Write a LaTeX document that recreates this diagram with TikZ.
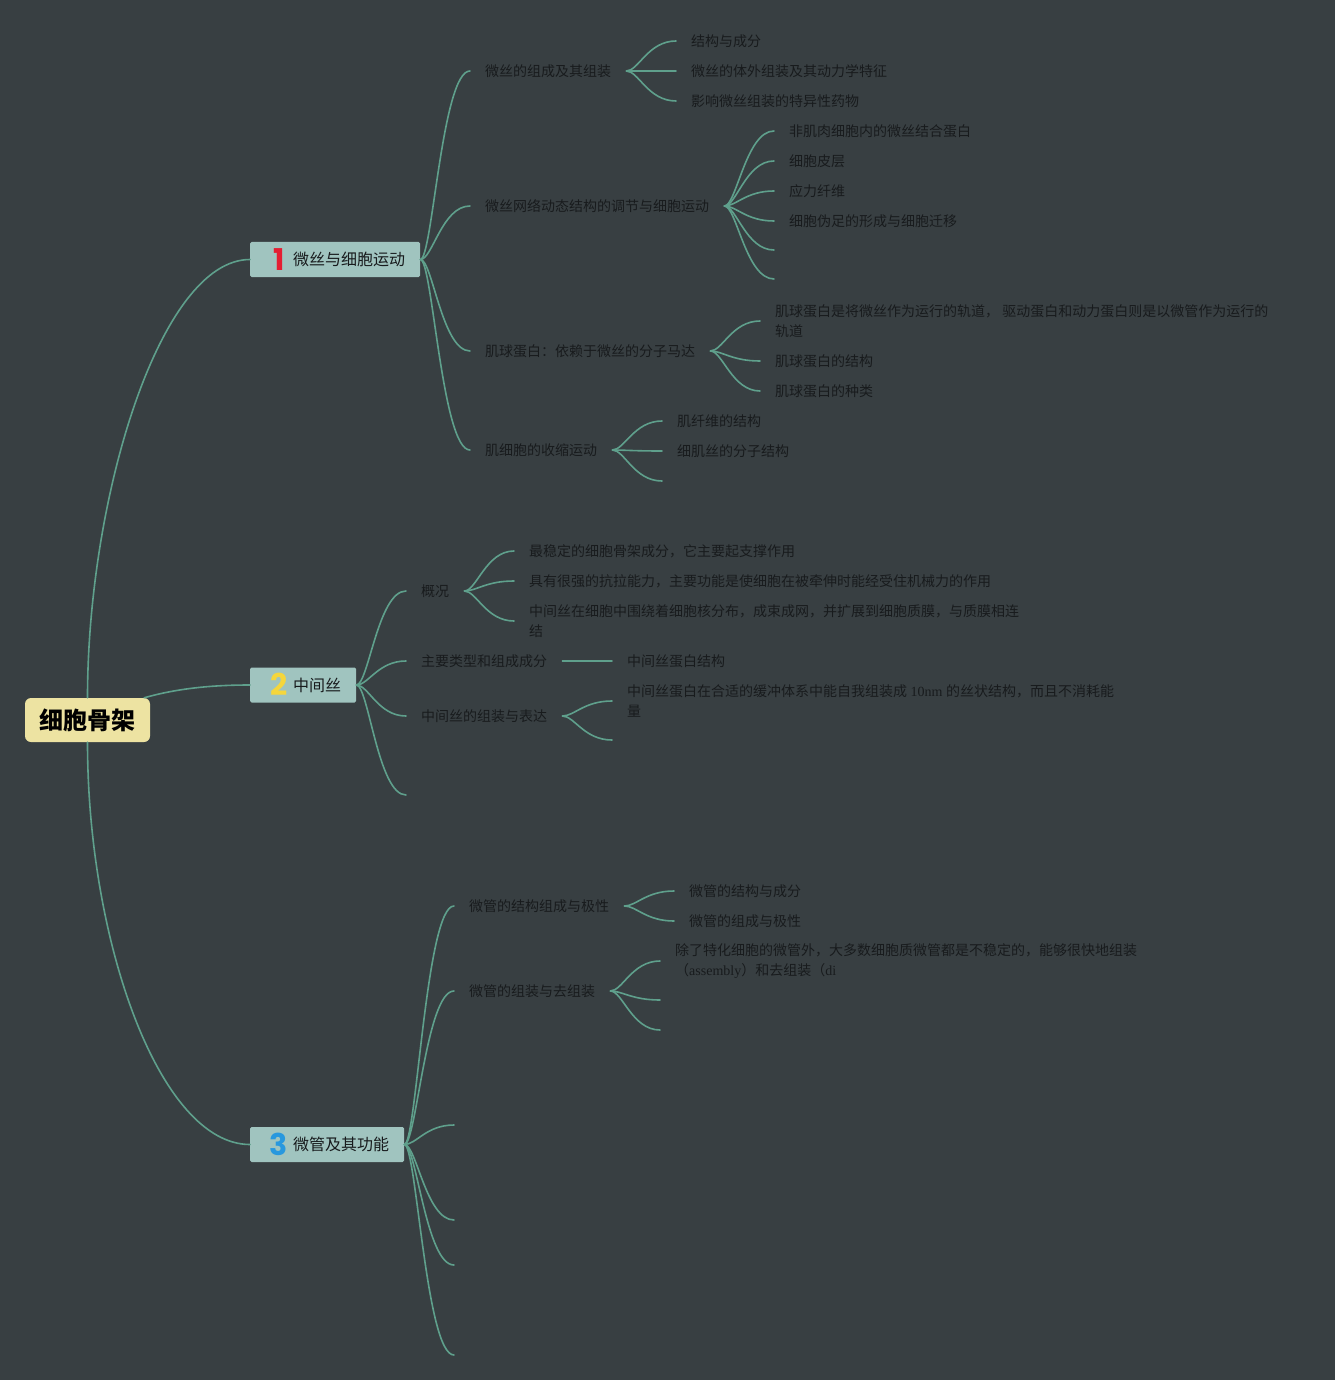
\documentclass[tikz,border=0pt]{standalone}
\usepackage{fontspec}
\setmainfont{Noto Sans CJK SC}
\newfontfamily\latfont{Liberation Serif}
\newfontfamily\numfont{Poppins}
\definecolor{bgc}{RGB}{56,63,66}
\definecolor{linkc}{RGB}{95,160,140}
\definecolor{txtc}{RGB}{24,27,29}
\definecolor{mainc}{RGB}{160,196,191}
\definecolor{rootc}{RGB}{237,227,162}
\definecolor{numred}{RGB}{228,30,50}
\definecolor{numyel}{RGB}{245,214,60}
\definecolor{numblu}{RGB}{40,152,222}
\newcommand\brlink[2]{\draw[link] (#1) .. controls +(12,0) and +(-28,0) .. (#2);}
\newcommand\topicnum[3]{\kern20pt\makebox[17pt]{\smash{\raisebox{-4.5pt}{\numfont\bfseries\fontsize{30pt}{30pt}\selectfont\color{#1}#2}}}\kern6pt#3\kern15pt\relax}
\begin{document}
\begin{tikzpicture}[x=1pt,y=-1pt,
  link/.style={draw=linkc, line width=1.6pt, line cap=round},
  leaf/.style={anchor=west, inner xsep=15pt, inner ysep=0pt, text=txtc, font=\fontsize{14pt}{20pt}\selectfont, align=left},
  topic/.style={anchor=west, inner xsep=0pt, inner ysep=0pt, minimum height=35pt, fill=mainc, rounded corners=1.5pt, text=txtc, font=\fontsize{16pt}{20pt}\selectfont},
  rootbox/.style={fill=rootc, rounded corners=6pt, minimum width=125pt, minimum height=44pt, inner sep=0pt, text=black, font=\fontsize{24pt}{28pt}\selectfont\bfseries}]
\fill[bgc] (0,0) rectangle (1335,1380);
\useasboundingbox (0,0) rectangle (1335,1380);

% root and main topics
\node[rootbox] (root) at (87.5,720) {细胞骨架};
\node[topic] (m1) at (250,259.5) {\topicnum{numred}{1}{微丝与细胞运动}};
\node[topic] (m2) at (250,685) {\topicnum{numyel}{2}{中间丝}};
\node[topic] (m3) at (250,1144.5) {\topicnum{numblu}{3}{微管及其功能}};

\draw[link] (root.north) .. controls +(0,-200) and +(-90,0) .. (m1.west);
\draw[link] ([xshift=-6pt]root.north east) .. controls +(35,-10) and +(-35,0) .. (m2.west);
\draw[link] (root.south) .. controls +(0,200) and +(-90,0) .. (m3.west);

% branch 1
\node[leaf] (a1) at (470,71) {微丝的组成及其组装};
\node[leaf] (a2) at (470,206) {微丝网络动态结构的调节与细胞运动};
\node[leaf] (a3) at (470,351) {肌球蛋白：依赖于微丝的分子马达};
\node[leaf] (a4) at (470,450) {肌细胞的收缩运动};
\foreach \c in {a1,a2,a3,a4} {\brlink{m1.east}{\c.west}}

\node[leaf] (a11) at (676,41) {结构与成分};
\node[leaf] (a12) at (676,71) {微丝的体外组装及其动力学特征};
\node[leaf] (a13) at (676,101) {影响微丝组装的特异性药物};
\foreach \c in {a11,a12,a13} {\brlink{a1.east}{\c.west}}

\node[leaf] (a21) at (774,131) {非肌肉细胞内的微丝结合蛋白};
\node[leaf] (a22) at (774,161) {细胞皮层};
\node[leaf] (a23) at (774,191) {应力纤维};
\node[leaf] (a24) at (774,221) {细胞伪足的形成与细胞迁移};
\coordinate (a25) at (774,250);
\coordinate (a26) at (774,279);
\foreach \c in {a21.west,a22.west,a23.west,a24.west,a25,a26} {\brlink{a2.east}{\c}}

\node[leaf] (a31) at (760,321) {肌球蛋白是将微丝作为运行的轨道， 驱动蛋白和动力蛋白则是以微管作为运行的\\轨道};
\node[leaf] (a32) at (760,361) {肌球蛋白的结构};
\node[leaf] (a33) at (760,391) {肌球蛋白的种类};
\foreach \c in {a31,a32,a33} {\brlink{a3.east}{\c.west}}

\node[leaf] (a41) at (662,421) {肌纤维的结构};
\node[leaf] (a42) at (662,451) {细肌丝的分子结构};
\coordinate (a43) at (662,481);
\foreach \c in {a41.west,a42.west,a43} {\brlink{a4.east}{\c}}

% branch 2
\node[leaf] (b1) at (406,591) {概况};
\node[leaf] (b2) at (406,661) {主要类型和组成成分};
\node[leaf] (b3) at (406,716) {中间丝的组装与表达};
\coordinate (b4) at (406,795);
\foreach \c in {b1.west,b2.west,b3.west,b4} {\brlink{m2.east}{\c}}

\node[leaf] (b11) at (514,551) {最稳定的细胞骨架成分，它主要起支撑作用};
\node[leaf] (b12) at (514,581) {具有很强的抗拉能力，主要功能是使细胞在被牵伸时能经受住机械力的作用};
\node[leaf] (b13) at (514,621) {中间丝在细胞中围绕着细胞核分布，成束成网，并扩展到细胞质膜，与质膜相连\\结};
\foreach \c in {b11,b12,b13} {\brlink{b1.east}{\c.west}}

\node[leaf] (b21) at (612,661) {中间丝蛋白结构};
\draw[link] (b2.east) -- (b21.west);

\node[leaf] (b31) at (612,701) {中间丝蛋白在合适的缓冲体系中能自我组装成{\latfont\ 10nm }的丝状结构，而且不消耗能\\量};
\coordinate (b32) at (612,740);
\foreach \c in {b31.west,b32} {\brlink{b3.east}{\c}}

% branch 3
\node[leaf] (c1) at (454,906) {微管的结构组成与极性};
\node[leaf] (c2) at (454,991) {微管的组装与去组装};
\coordinate (c3) at (454,1125);
\coordinate (c4) at (454,1220);
\coordinate (c5) at (454,1265);
\coordinate (c6) at (454,1355);
\foreach \c in {c1.west,c2.west,c3,c4,c5,c6} {\brlink{m3.east}{\c}}

\node[leaf] (c11) at (674,891) {微管的结构与成分};
\node[leaf] (c12) at (674,921) {微管的组成与极性};
\foreach \c in {c11,c12} {\brlink{c1.east}{\c.west}}

\node[leaf] (c21) at (660,961) {除了特化细胞的微管外，大多数细胞质微管都是不稳定的，能够很快地组装\\（{\latfont assembly}）和去组装（{\latfont di}};
\coordinate (c22) at (660,1000);
\coordinate (c23) at (660,1030);
\foreach \c in {c21.west,c22,c23} {\brlink{c2.east}{\c}}
\end{tikzpicture}
\end{document}
